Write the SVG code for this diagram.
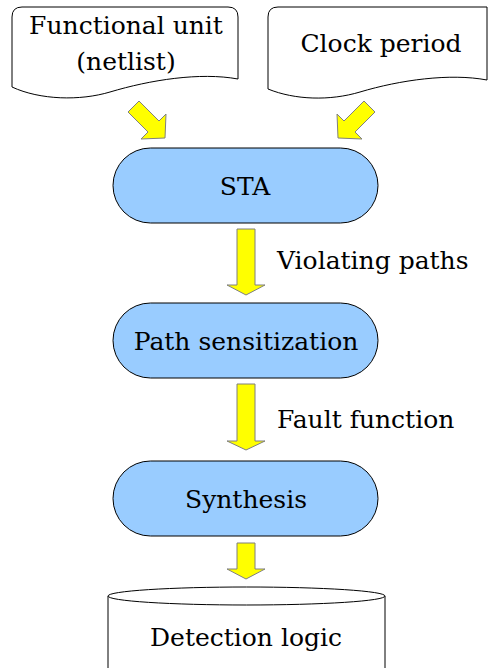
<svg xmlns="http://www.w3.org/2000/svg" width="488" height="668" viewBox="0 0 488 668">
  <style>
    .doc { fill: #ffffff; stroke: #000000; stroke-width: 1; }
    .pill { fill: #99ccff; stroke: #000000; stroke-width: 1; }
    .arrow { fill: #ffff00; stroke: #7f7f7f; stroke-width: 1; }
    text { font-family: "DejaVu Serif", serif; font-size: 25px; fill: #000000; }
    .mid { text-anchor: middle; }
  </style>
  <rect width="488" height="668" fill="#ffffff"/>

  <g id="netlist">
    <path class="doc" d="M22,7 H228 Q238,7 238,17 V79 C200,72 150,80 110,92 C80,101 40,100 12,87 V17 Q12,7 22,7 Z"/>
    <text class="mid" x="126" y="34">Functional unit</text>
    <text class="mid" x="126" y="70">(netlist)</text>
  </g>

  <g id="clock">
    <path class="doc" d="M278,7 H487 V80 C450,73 400,80 360,92 C330,101 295,100 268,89 V17 Q268,7 278,7 Z"/>
    <text class="mid" x="381" y="52">Clock period</text>
  </g>

  <g id="sta">
    <rect class="pill" x="113" y="148" width="265" height="75" rx="37.5"/>
    <text class="mid" x="245" y="195">STA</text>
  </g>

  <g id="sensitization">
    <rect class="pill" x="113" y="303" width="265" height="75" rx="37.5"/>
    <text class="mid" x="246" y="350">Path sensitization</text>
  </g>

  <g id="synthesis">
    <rect class="pill" x="113" y="461" width="265" height="75" rx="37.5"/>
    <text class="mid" x="246" y="508">Synthesis</text>
  </g>

  <g id="detection">
    <path class="doc" d="M108,596 V672 H385 V596"/>
    <ellipse class="doc" cx="246.5" cy="596" rx="138.5" ry="9"/>
    <text class="mid" x="246" y="646">Detection logic</text>
  </g>

  <g id="connectors">
    <!-- diagonal inputs into STA -->
    <polygon class="arrow" points="128,112 139,101 159,121 166,114 165,138 141,139 148,132"/>
    <polygon class="arrow" points="375,112 364,101 344,121 337,114 338,138 362,139 355,132"/>
    <!-- STA to path sensitization -->
    <polygon class="arrow" points="237,229 255,229 255,285 265,285 246,295 227,285 237,285"/>
    <text x="277" y="269">Violating paths</text>
    <!-- path sensitization to synthesis -->
    <polygon class="arrow" points="237,384 255,384 255,441 265,441 246,450 227,441 237,441"/>
    <text x="277" y="428">Fault function</text>
    <!-- synthesis to detection logic -->
    <polygon class="arrow" points="237,543 255,543 255,569 265,569 246,579 227,569 237,569"/>
  </g>
</svg>
